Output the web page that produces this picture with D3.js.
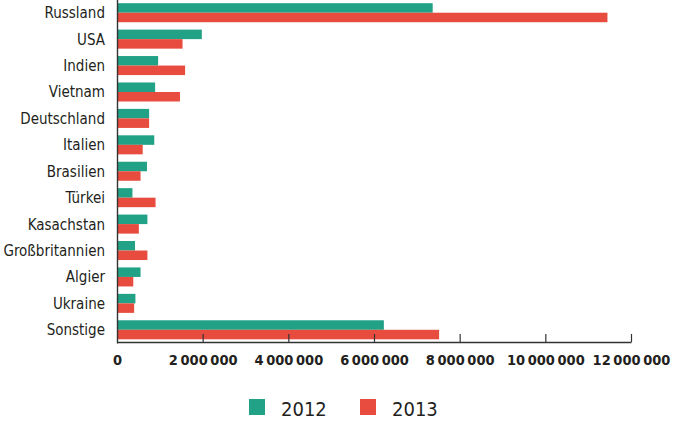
<!DOCTYPE html>
<html>
<head>
<meta charset="utf-8">
<script src="https://cdn.jsdelivr.net/npm/d3@7"></script>
<style>
  body { margin: 0; background: #fff; }
  svg text { font-family: "DejaVu Sans", sans-serif; font-stretch: condensed; fill: #231f20; }
</style>
</head>
<body>
<div id="chart"></div>
<script>
  // data
  var countries = ["Russland", "USA", "Indien", "Vietnam", "Deutschland", "Italien", "Brasilien",
    "Türkei", "Kasachstan", "Großbritannien", "Algier", "Ukraine", "Sonstige"];
  var years = ["2012", "2013"];
  var values2012 = [7370000, 1980000, 960000, 890000, 750000, 870000, 700000,
    360000, 710000, 420000, 550000, 430000, 6230000];
  var values2013 = [11450000, 1530000, 1590000, 1470000, 750000, 600000, 550000,
    900000, 510000, 710000, 380000, 400000, 7520000];
  var xTicks = [0, 2000000, 4000000, 6000000, 8000000, 10000000, 12000000];
  var colors = ["#21a185", "#e84c3e"];

  var width = 678, height = 421;

  var rows = countries.map((c, i) => ({ name: c, vals: [values2012[i], values2013[i]] }));

  var svg = d3.select("#chart").append("svg")
    .attr("width", width)
    .attr("height", height);

  // scales
  var x = d3.scaleLinear()
    .domain([0, 12000000])
    .range([117, 631]);

  var y = d3.scaleBand()
    .domain(countries)
    .range([-0.5, 343])
    .paddingInner(0.28)
    .paddingOuter(0.14);

  var ySub = d3.scaleBand()
    .domain(years)
    .range([0, y.bandwidth()]);

  var color = d3.scaleOrdinal().domain(years).range(colors);

  // bars
  var group = svg.selectAll("g.row")
    .data(rows)
    .enter().append("g")
    .attr("class", "row")
    .attr("transform", d => "translate(0," + y(d.name) + ")");

  group.selectAll("rect")
    .data(d => d.vals.map((v, i) => ({ year: years[i], value: v })))
    .enter().append("rect")
    .attr("x", x(0))
    .attr("y", d => ySub(d.year))
    .attr("width", d => x(d.value) - x(0))
    .attr("height", ySub.bandwidth())
    .attr("fill", d => color(d.year));

  // x axis
  var xAxis = d3.axisBottom(x)
    .tickValues(xTicks)
    .tickSize(-8)
    .tickSizeOuter(0)
    .tickPadding(13)
    .tickFormat(d => d3.format(",")(d).replace(/,/g, "\u2009"));

  var xg = svg.append("g")
    .attr("transform", "translate(0,342)")
    .call(xAxis);
  xg.select(".domain").attr("stroke", "#333").attr("stroke-width", 1.4);
  xg.selectAll(".tick line").attr("stroke", "#333").attr("stroke-width", 1.2);
  xg.selectAll(".tick text")
    .attr("font-size", "14.5px")
    .attr("font-weight", "bold")
    .attr("font-family", null)
    .attr("dy", "0.71em");
  xg.selectAll(".tick").filter(d => d === 0).select("line").remove();

  // y axis
  var yAxis = d3.axisLeft(y)
    .tickSize(0)
    .tickSizeOuter(0)
    .tickPadding(12);

  var yg = svg.append("g")
    .attr("transform", "translate(117,0)")
    .call(yAxis);
  yg.select(".domain").attr("stroke", "#333").attr("stroke-width", 1.4);
  yg.selectAll(".tick text")
    .attr("font-size", "15px")
    .attr("font-family", null)
    .attr("dy", "0.36em");

  // legend
  var legend = svg.append("g").attr("class", "legend");
  var legX = [249, 360];
  years.forEach((yr, i) => {
    legend.append("rect")
      .attr("x", legX[i])
      .attr("y", 399)
      .attr("width", 16)
      .attr("height", 16)
      .attr("fill", color(yr));
    legend.append("text")
      .attr("x", legX[i] + 32)
      .attr("y", 415.5)
      .attr("font-size", "20px")
      .text(yr);
  });
</script>
</body>
</html>
